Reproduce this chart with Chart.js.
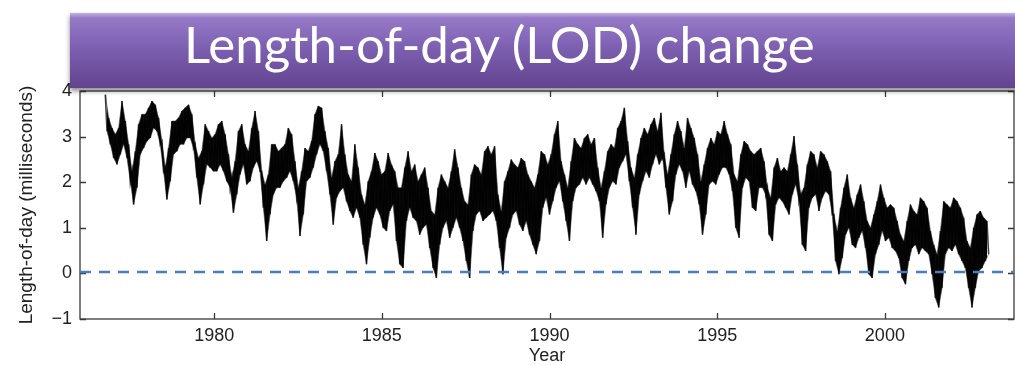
<!DOCTYPE html>
<html>
<head>
<meta charset="utf-8">
<script src="https://cdn.jsdelivr.net/npm/chart.js@4.4.0/dist/chart.umd.min.js"></script>
<style>
  html, body { margin: 0; padding: 0; background: #fff; overflow: hidden; }
  #wrap { position: relative; width: 1015px; height: 365px; }
  #myChart { position: absolute; left: 0; top: 0; }
  #banner {
    position: absolute; left: 70px; top: 13px; width: 960px; height: 75px;
    box-sizing: border-box; padding-left: 114px;
    background: linear-gradient(#c2afe6 0px, #9579c6 5px, #7e60b2 45%, #62438f 100%);
    box-shadow: 0 3px 5px rgba(0, 0, 0, 0.45);
    color: #fff; font-family: Lato, "Open Sans", sans-serif; font-size: 51px; line-height: 62px;
    white-space: nowrap;
  }
</style>
</head>
<body>
<div id="wrap">
  <canvas id="myChart" width="1015" height="365"></canvas>
  <div id="banner">Length-of-day (LOD) change</div>
</div>
<script>
const lodStart = 1976.756;
const lodStep = 0.0992;
const lodHigh = [
  3.92,3.41,3.19,3.05,3.19,3.78,3.34,2.83,2.24,2.68,3.27,3.49,3.49,3.63,3.78,3.70,3.41,2.90,2.32,2.75,3.34,3.34,3.41,3.56,3.63,3.70,3.49,2.83,2.53,2.68,3.27,3.12,2.97,3.05,3.27,3.34,3.05,2.61,2.10,2.46,3.12,3.27,
  2.83,2.68,3.19,3.56,3.12,2.24,1.95,2.17,2.83,2.83,2.68,2.75,2.83,3.19,3.05,2.46,1.88,2.24,2.75,2.68,2.90,3.49,3.67,3.63,3.12,2.75,2.10,2.46,2.61,3.27,2.61,2.17,2.02,2.83,2.32,1.73,1.51,2.02,2.24,2.64,2.46,2.17,2.24,2.64,2.39,
  2.24,1.88,1.88,2.32,2.68,2.24,2.39,2.02,2.17,2.32,1.88,1.37,1.29,1.88,2.17,2.02,1.88,2.24,2.72,2.32,1.88,1.58,1.51,2.17,2.39,2.32,2.17,2.68,2.79,2.61,2.79,1.73,1.37,2.02,2.24,2.50,2.39,2.32,2.53,2.46,2.17,2.02,1.88,2.17,2.68,
  2.61,2.39,2.61,3.05,3.34,2.46,2.17,1.88,2.46,2.97,2.83,2.75,2.97,3.05,2.83,2.97,2.32,1.88,2.24,2.68,2.83,2.75,3.19,3.34,3.63,2.90,2.32,2.10,2.61,2.97,3.19,3.05,3.27,3.41,3.12,3.52,2.61,2.17,2.61,3.05,3.34,3.12,2.75,3.41,3.19,
  2.97,2.61,2.02,2.39,2.75,2.97,2.83,3.12,3.05,3.34,3.05,2.83,2.17,2.02,2.61,2.90,2.83,2.68,2.61,2.68,2.75,2.46,1.88,1.66,2.32,2.53,2.24,2.32,2.24,2.61,3.01,2.39,1.73,1.88,2.39,2.68,2.61,2.32,2.68,2.61,2.46,2.24,1.29,0.93,1.44,
  1.88,2.17,1.66,1.44,1.73,1.95,1.58,1.15,1.00,1.29,1.58,1.95,1.66,1.44,1.51,1.44,1.15,0.85,0.71,1.15,1.51,1.37,1.29,1.66,1.58,1.44,0.93,0.63,0.42,0.93,1.58,1.51,1.44,1.66,1.58,1.44,1.22,0.71,0.56,1.00,1.29,1.37,1.22,1.15
];
const lodLow = [
  3.12,2.83,2.53,2.39,2.61,2.83,2.53,2.02,1.51,1.88,2.61,2.75,2.90,2.97,3.19,3.12,2.83,2.24,1.62,2.02,2.61,2.68,2.83,2.83,2.97,2.97,2.75,2.10,1.51,1.95,2.39,2.32,2.24,2.24,2.39,2.24,2.02,1.88,1.33,1.73,2.17,2.39,
  1.95,2.02,2.32,2.46,2.24,1.44,0.71,1.29,1.73,1.88,1.88,2.02,2.10,2.24,2.02,1.66,0.82,1.29,2.02,2.10,2.32,2.61,2.83,2.68,2.24,1.73,1.07,1.66,1.80,1.88,1.58,1.37,1.22,1.44,1.22,0.63,0.20,0.78,1.22,1.44,1.29,1.00,0.93,1.37,1.51,
  0.71,0.20,0.12,1.15,1.44,1.22,1.15,0.85,1.00,1.07,0.56,0.12,-0.10,0.63,1.00,1.15,0.78,1.00,1.22,1.00,0.71,0.27,-0.10,0.93,1.29,1.37,1.15,1.22,1.29,1.37,1.15,0.56,-0.02,0.78,1.00,1.29,1.37,1.07,0.93,1.15,0.85,0.63,0.42,0.71,1.44,
  1.66,1.29,1.58,1.88,2.02,1.58,1.15,0.71,1.58,1.88,1.95,2.10,1.95,2.10,1.95,1.80,1.58,0.78,1.51,1.88,2.02,1.95,2.32,2.46,2.61,2.02,1.44,0.85,1.73,2.02,2.24,2.10,2.39,2.61,2.39,2.53,1.88,1.29,1.58,2.17,2.39,2.24,1.88,2.24,1.95,
  1.80,1.51,0.85,1.29,1.95,2.02,1.95,2.17,2.32,2.32,2.17,1.80,1.00,0.78,1.88,2.10,2.02,1.44,1.37,1.88,1.88,1.73,0.85,0.71,1.51,1.66,1.58,1.44,1.29,1.73,1.95,1.58,0.63,0.49,1.44,1.66,1.73,1.37,1.66,1.80,1.73,1.29,0.27,-0.02,0.34,
  0.85,1.00,0.63,0.56,0.78,0.93,0.56,-0.02,-0.10,0.42,0.63,0.93,0.71,0.78,0.56,0.49,0.34,-0.10,-0.24,0.27,0.56,0.63,0.42,0.56,0.49,0.42,-0.02,-0.54,-0.75,-0.32,0.42,0.56,0.49,0.63,0.42,0.27,0.12,-0.32,-0.75,-0.32,0.05,0.12,0.27,0.42
];
const zeroLevel = 0.03;
const xRange = [1976, 2003.85];
const xTicks = [1980, 1985, 1990, 1995, 2000];
const yTicks = [-1, 0, 1, 2, 3, 4];

// zigzag between high and low so the band looks like the dense daily trace
const trace = [];
const highPts = [];
const lowPts = [];
lodHigh.forEach((h, i) => {
  const t = lodStart + i * lodStep;
  trace.push({ x: t, y: h });
  trace.push({ x: t + lodStep / 2, y: lodLow[i] });
  highPts.push({ x: t, y: h });
  lowPts.push({ x: t + lodStep / 2, y: lodLow[i] });
});

// matlab style box with inward ticks
const boxTicks = {
  id: 'boxTicks',
  beforeDatasetsDraw(chart) {
    const { ctx, chartArea: a, scales: { x, y } } = chart;
    ctx.save();
    ctx.strokeStyle = '#3a3a3a';
    ctx.lineWidth = 1.3;
    ctx.strokeRect(a.left, a.top, a.right - a.left, a.bottom - a.top);
    ctx.beginPath();
    xTicks.forEach(v => {
      const px = Math.round(x.getPixelForValue(v)) + 0.5;
      ctx.moveTo(px, a.bottom); ctx.lineTo(px, a.bottom - 6);
      ctx.moveTo(px, a.top); ctx.lineTo(px, a.top + 6);
    });
    yTicks.forEach(v => {
      const py = Math.round(y.getPixelForValue(v)) + 0.5;
      ctx.moveTo(a.left, py); ctx.lineTo(a.left + 6, py);
      ctx.moveTo(a.right, py); ctx.lineTo(a.right - 6, py);
    });
    ctx.stroke();
    ctx.restore();
  }
};

const ctx = document.getElementById('myChart').getContext('2d');

new Chart(ctx, {
  type: 'line',
  data: {
    datasets: [
      {
        label: 'zero',
        data: [{ x: xRange[0], y: zeroLevel }, { x: xRange[1], y: zeroLevel }],
        borderColor: '#4a7cc0',
        borderWidth: 2.6,
        borderDash: [11, 8],
        pointRadius: 0
      },
      {
        label: 'LOD',
        data: trace,
        borderColor: 'rgba(0,0,0,0.75)',
        borderWidth: 1.6,
        pointRadius: 0,
        tension: 0
      },
      {
        label: 'high',
        data: highPts,
        borderColor: 'rgba(60,60,60,0.55)',
        borderWidth: 1,
        pointRadius: 0,
        tension: 0
      },
      {
        label: 'low',
        data: lowPts,
        borderColor: 'rgba(60,60,60,0.55)',
        borderWidth: 1,
        backgroundColor: '#0a0a0a',
        fill: '-1',
        pointRadius: 0,
        tension: 0
      }
    ]
  },
  options: {
    responsive: false,
    animation: false,
    layout: { padding: { left: 0, right: 1, top: 91, bottom: 0 } },
    plugins: { legend: { display: false }, tooltip: { enabled: false } },
    scales: {
      x: {
        type: 'linear',
        min: xRange[0],
        max: xRange[1],
        afterBuildTicks: s => { s.ticks = xTicks.map(v => ({ value: v })); },
        afterFit: s => { s.height = 46; },
        grid: { display: false, drawTicks: false },
        border: { display: false },
        ticks: {
          color: '#222', padding: 6, maxRotation: 0, autoSkip: false,
          font: { family: 'Liberation Sans', size: 18 },
          callback: v => String(v)
        },
        title: {
          display: true, text: 'Year', color: '#222',
          font: { family: 'Liberation Sans', size: 18, lineHeight: 1 },
          padding: { top: 0, bottom: 0 }
        }
      },
      y: {
        min: -1,
        max: 4,
        afterBuildTicks: s => { s.ticks = yTicks.map(v => ({ value: v })); },
        afterFit: s => { s.width = 80; },
        grid: { display: false, drawTicks: false },
        border: { display: false },
        ticks: {
          color: '#222', padding: 8,
          font: { family: 'Liberation Sans', size: 18 },
          callback: v => (v < 0 ? '\u2212' + Math.abs(v) : String(v))
        },
        title: {
          display: true, text: 'Length-of-day (milliseconds)', color: '#222',
          font: { family: 'Liberation Sans', size: 19, lineHeight: 1 },
          padding: { top: 17, bottom: 0 }
        }
      }
    }
  },
  plugins: [boxTicks]
});
</script>
</body>
</html>
